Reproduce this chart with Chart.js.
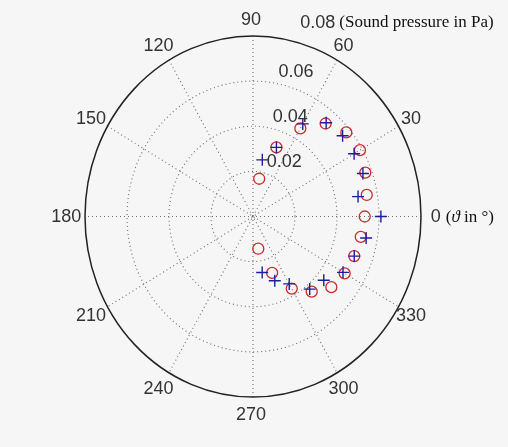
<!DOCTYPE html>
<html lang="en">
<head>
<meta charset="UTF-8">
<title>Sound pressure polar plot</title>
<script src="https://cdn.jsdelivr.net/npm/chart.js"></script>
<style>
  body { margin: 0; background: #f6f6f6; }
  #wrap { width: 508px; height: 447px; }
</style>
</head>
<body>
<div id="wrap"><canvas id="polarChart" width="508" height="447"></canvas></div>
<script>
  // angle in degrees, sound pressure in Pa
  const angles = [-80, -70, -60, -50, -40, -30, -20, -10, 0, 10, 20, 30, 40, 50, 60, 70, 80];
  const pressureCircles = [0.0145, 0.0266, 0.0369, 0.0435, 0.0487, 0.0504, 0.0513, 0.0521, 0.0532,
    0.0550, 0.0569, 0.0588, 0.0580, 0.0538, 0.0451, 0.0326, 0.0170];
  const pressureCrosses = [0.0252, 0.0303, 0.0345, 0.0420, 0.0440, 0.0495, 0.0513, 0.0547, 0.0609,
    0.0508, 0.0557, 0.0556, 0.0557, 0.0542, 0.0474, 0.0326, 0.0255];
  const rTicks = [0.02, 0.04, 0.06, 0.08];
  const angleTicks = [0, 30, 60, 90, 120, 150, 180, 210, 240, 270, 300, 330];
  const rMax = 0.08;

  function toXY(r, deg) {
    const a = deg * Math.PI / 180;
    return { x: r * Math.cos(a), y: r * Math.sin(a) };
  }

  const serif = '"Liberation Serif", "Times New Roman", serif';

  const polarGrid = {
    id: 'polarGrid',
    beforeDatasetsDraw(chart) {
      const ctx = chart.ctx;
      const xs = chart.scales.x, ys = chart.scales.y;
      const cx = xs.getPixelForValue(0), cy = ys.getPixelForValue(0);
      ctx.save();
      ctx.strokeStyle = '#6e6e6e';
      ctx.lineWidth = 1.1;
      ctx.setLineDash([1, 3]);
      // spokes
      angleTicks.slice(0, 6).forEach(function (deg) {
        const p = toXY(rMax, deg);
        ctx.beginPath();
        ctx.moveTo(xs.getPixelForValue(p.x), ys.getPixelForValue(p.y));
        ctx.lineTo(xs.getPixelForValue(-p.x), ys.getPixelForValue(-p.y));
        ctx.stroke();
      });
      // rings
      rTicks.slice(0, 3).forEach(function (r) {
        ctx.beginPath();
        ctx.ellipse(cx, cy, xs.getPixelForValue(r) - cx, cy - ys.getPixelForValue(r), 0, 0, Math.PI * 2);
        ctx.stroke();
      });
      // outer ring
      ctx.setLineDash([]);
      ctx.strokeStyle = '#222';
      ctx.lineWidth = 1.5;
      ctx.beginPath();
      ctx.ellipse(cx, cy, xs.getPixelForValue(rMax) - cx, cy - ys.getPixelForValue(rMax), 0, 0, Math.PI * 2);
      ctx.stroke();
      ctx.restore();
    },
    afterDraw(chart) {
      const ctx = chart.ctx;
      const xs = chart.scales.x, ys = chart.scales.y;
      ctx.save();
      ctx.fillStyle = '#333';
      ctx.font = '18px "Liberation Sans", Arial, sans-serif';
      ctx.textAlign = 'center';
      ctx.textBaseline = 'middle';
      angleTicks.forEach(function (deg) {
        const a = deg * Math.PI / 180;
        const px = xs.getPixelForValue(rMax * 1.1 * Math.cos(a)) - 2;
        const py = ys.getPixelForValue(rMax * 1.095 * Math.sin(a)) + 1;
        ctx.fillText(String(deg), px, py);
      });
      // unit note after the 0 label
      let x0 = xs.getPixelForValue(rMax * 1.1) + 8;
      const y0 = ys.getPixelForValue(0) + 1;
      ctx.fillStyle = '#111';
      ctx.textAlign = 'left';
      ctx.font = '17px ' + serif;
      ctx.fillText('(', x0, y0);
      x0 += ctx.measureText('(').width;
      ctx.font = 'italic 17px ' + serif;
      ctx.fillText('\u03D1', x0, y0);
      x0 += ctx.measureText('\u03D1').width;
      ctx.font = '17px ' + serif;
      ctx.fillText(' in \u00B0)', x0, y0);

      // radial tick labels along 82 degrees
      ctx.fillStyle = '#333';
      ctx.font = '18px "Liberation Sans", Arial, sans-serif';
      ctx.textBaseline = 'bottom';
      rTicks.slice(0, 3).forEach(function (r) {
        const p = toXY(r, 82);
        ctx.fillText(String(r), xs.getPixelForValue(p.x) + 8, ys.getPixelForValue(p.y) - 1);
      });
      // outer tick label with unit note
      let xt = xs.getPixelForValue(0.0225);
      const yt = ys.getPixelForValue(rMax * 1.073);
      ctx.textBaseline = 'middle';
      ctx.fillText('0.08', xt, yt);
      xt += ctx.measureText('0.08').width + 4;
      ctx.fillStyle = '#111';
      ctx.font = '17px ' + serif;
      ctx.fillText('(Sound pressure in Pa)', xt, yt);
      ctx.restore();
    }
  };

  new Chart(document.getElementById('polarChart'), {
    type: 'scatter',
    data: {
      datasets: [{
        label: 'crosses',
        data: angles.map(function (a, i) { return toXY(pressureCrosses[i], a); }),
        pointStyle: 'cross',
        pointRadius: 6,
        borderColor: '#1d1d9e',
        borderWidth: 1.4,
        showLine: false
      }, {
        label: 'circles',
        data: angles.map(function (a, i) { return toXY(pressureCircles[i], a); }),
        pointStyle: 'circle',
        pointRadius: 5.5,
        backgroundColor: 'rgba(0,0,0,0)',
        borderColor: '#cc2a2a',
        borderWidth: 1.3,
        showLine: false
      }]
    },
    options: {
      responsive: false,
      animation: false,
      layout: { padding: { left: 85, right: 87, top: 36, bottom: 50 } },
      scales: {
        x: { type: 'linear', min: -rMax, max: rMax, display: false },
        y: { type: 'linear', min: -rMax, max: rMax, display: false }
      },
      plugins: { legend: { display: false }, tooltip: { enabled: false } }
    },
    plugins: [polarGrid]
  });
</script>
</body>
</html>
